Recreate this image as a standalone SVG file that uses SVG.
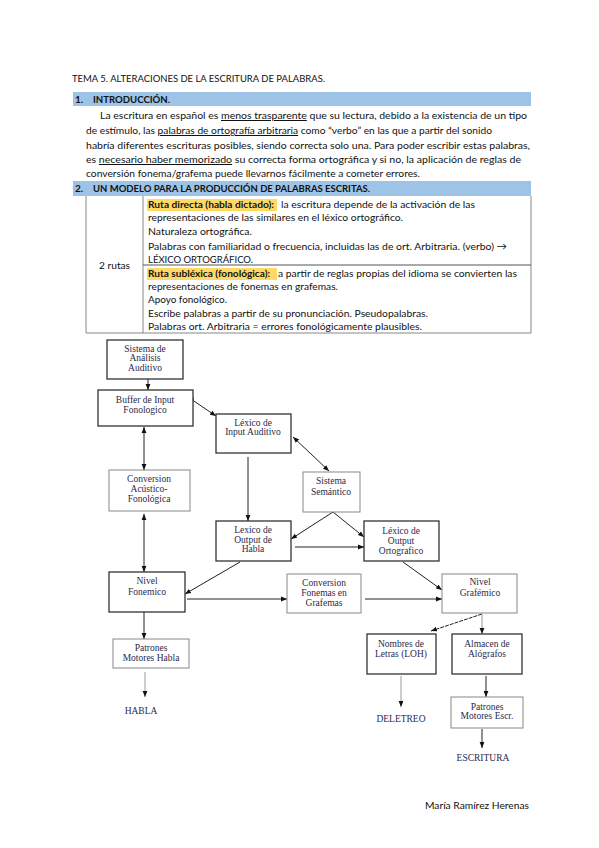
<svg xmlns="http://www.w3.org/2000/svg" width="599" height="848" viewBox="0 0 599 848">
<style>
.t{font-family:Lato,"Liberation Sans",sans-serif;font-size:10px;fill:#111}
.h{font-family:Lato,"Liberation Sans",sans-serif;font-size:10px;font-weight:bold;fill:#111}
.u{text-decoration:underline}
.n{font-family:"Liberation Serif",serif;font-size:9.5px;fill:#2a2a4a;text-anchor:middle}
.b{fill:#fff;stroke:#333;stroke-width:1.3}
.bl{fill:#fff;stroke:#888;stroke-width:1}
.c{stroke:#222;stroke-width:1;fill:none}
.cg{stroke:#999;stroke-width:1;fill:none}
</style>
<defs>
<marker id="ah" viewBox="0 0 10 10" refX="10" refY="5" markerWidth="6" markerHeight="6" markerUnits="userSpaceOnUse" orient="auto-start-reverse"><path d="M0,1 L10,5 L0,9 z" fill="#111"/></marker>
</defs>
<rect width="599" height="848" fill="#fff"/>

<g id="header">
<text class="t" x="72" y="82" textLength="253" lengthAdjust="spacingAndGlyphs">TEMA 5. ALTERACIONES DE LA ESCRITURA DE PALABRAS.</text>
<rect x="73" y="92" width="458" height="14" fill="#9dc3e6"/>
<text class="h" x="75" y="103">1.</text>
<text class="h" x="93" y="103" textLength="77" lengthAdjust="spacingAndGlyphs">INTRODUCCIÓN.</text>
<text class="t" x="100" y="119" textLength="427" lengthAdjust="spacingAndGlyphs">La escritura en español es <tspan class="u">menos trasparente</tspan> que su lectura, debido a la existencia de un tipo</text>
<text class="t" x="86" y="134" textLength="406" lengthAdjust="spacingAndGlyphs">de estímulo, las <tspan class="u">palabras de ortografía arbitraria</tspan> como “verbo” en las que a partir del sonido</text>
<text class="t" x="86" y="149" textLength="444" lengthAdjust="spacingAndGlyphs">habría diferentes escrituras posibles, siendo correcta solo una. Para poder escribir estas palabras,</text>
<text class="t" x="86" y="163" textLength="435" lengthAdjust="spacingAndGlyphs">es <tspan class="u">necesario haber memorizado</tspan> su correcta forma ortográfica y si no, la aplicación de reglas de</text>
<text class="t" x="86" y="177" textLength="334" lengthAdjust="spacingAndGlyphs">conversión fonema/grafema puede llevarnos fácilmente a cometer errores.</text>
<rect x="73" y="181" width="458" height="15" fill="#9dc3e6"/>
<text class="h" x="75" y="192">2.</text>
<text class="h" x="93" y="192" textLength="277" lengthAdjust="spacingAndGlyphs">UN MODELO PARA LA PRODUCCIÓN DE PALABRAS ESCRITAS.</text>
</g>

<g id="table">
<rect x="147" y="199" width="130" height="12" fill="#ffd966"/>
<rect x="147" y="268" width="130" height="12" fill="#ffd966"/>
<g stroke="#888" stroke-width="1">
<line x1="86" y1="196" x2="86" y2="333"/>
<line x1="531" y1="196" x2="531" y2="333"/>
<line x1="143" y1="196" x2="143" y2="333"/>
<line x1="143" y1="265" x2="531" y2="265" stroke="#555"/>
<line x1="86" y1="333" x2="531" y2="333"/>
</g>
<text class="t" x="99" y="269" textLength="31" lengthAdjust="spacingAndGlyphs">2 rutas</text>
<text class="h" x="148" y="208" textLength="126" lengthAdjust="spacingAndGlyphs">Ruta directa (habla dictado):</text>
<text class="t" x="281" y="208" textLength="194" lengthAdjust="spacingAndGlyphs">la escritura depende de la activación de las</text>
<text class="t" x="148" y="221" textLength="255" lengthAdjust="spacingAndGlyphs">representaciones de las similares en el léxico ortográfico.</text>
<text class="t" x="148" y="235" textLength="104" lengthAdjust="spacingAndGlyphs">Naturaleza ortográfica.</text>
<text class="t" x="148" y="250" textLength="359" lengthAdjust="spacingAndGlyphs">Palabras con familiaridad o frecuencia, incluidas las de ort. Arbitraria. (verbo) →</text>
<text class="t" x="148" y="263" textLength="105" lengthAdjust="spacingAndGlyphs">LÉXICO ORTOGRÁFICO.</text>
<text class="h" x="148" y="277" textLength="122" lengthAdjust="spacingAndGlyphs">Ruta subléxica (fonológica):</text>
<text class="t" x="278" y="277" textLength="239" lengthAdjust="spacingAndGlyphs">a partir de reglas propias del idioma se convierten las</text>
<text class="t" x="148" y="290" textLength="190" lengthAdjust="spacingAndGlyphs">representaciones de fonemas en grafemas.</text>
<text class="t" x="148" y="303" textLength="79" lengthAdjust="spacingAndGlyphs">Apoyo fonológico.</text>
<text class="t" x="148" y="317" textLength="280" lengthAdjust="spacingAndGlyphs">Escribe palabras a partir de su pronunciación. Pseudopalabras.</text>
<text class="t" x="148" y="330" textLength="274" lengthAdjust="spacingAndGlyphs">Palabras ort. Arbitraria = errores fonológicamente plausibles.</text>
</g>

<g id="connectors">
<line class="c" x1="148" y1="379" x2="148" y2="390" marker-end="url(#ah)"/>
<line class="c" x1="188" y1="397" x2="216" y2="416" marker-start="url(#ah)" marker-end="url(#ah)"/>
<line class="c" x1="144" y1="427" x2="144" y2="470" marker-start="url(#ah)" marker-end="url(#ah)"/>
<line class="c" x1="248" y1="457" x2="248" y2="521" marker-end="url(#ah)"/>
<line class="c" x1="293" y1="437" x2="329" y2="471" marker-start="url(#ah)" marker-end="url(#ah)"/>
<line class="c" x1="333" y1="512" x2="291" y2="539" marker-end="url(#ah)"/>
<line class="c" x1="333" y1="512" x2="364" y2="537" marker-end="url(#ah)"/>
<line class="c" x1="295" y1="547" x2="364" y2="547" marker-end="url(#ah)"/>
<line class="c" x1="240" y1="562" x2="185" y2="594" marker-end="url(#ah)"/>
<line class="c" x1="144" y1="514" x2="144" y2="572" marker-start="url(#ah)" marker-end="url(#ah)"/>
<line class="c" x1="187" y1="599" x2="287" y2="599" marker-end="url(#ah)"/>
<line class="c" x1="144" y1="612" x2="144" y2="639" marker-end="url(#ah)"/>
<line class="cg" x1="145" y1="672" x2="145" y2="697" marker-end="url(#ah)"/>
<line class="c" x1="403" y1="562" x2="442" y2="590" marker-end="url(#ah)"/>
<line class="c" x1="365" y1="599" x2="442" y2="599" marker-end="url(#ah)"/>
<line class="c" x1="482" y1="614" x2="431" y2="631" marker-end="url(#ah)" stroke-dasharray="4 1"/>
<line class="cg" x1="482" y1="614" x2="482" y2="634" marker-end="url(#ah)"/>
<line class="cg" x1="401" y1="676" x2="401" y2="707" marker-end="url(#ah)"/>
<line class="c" x1="486" y1="676" x2="486" y2="697" marker-end="url(#ah)" stroke-width="1.3"/>
<line class="c" x1="482" y1="729" x2="482" y2="748" marker-end="url(#ah)" stroke-width="1.3"/>
</g>

<g id="n-analisis"><rect class="b" x="107" y="340" width="76" height="39"/>
<text class="n" x="145" y="352">Sistema de</text><text class="n" x="145" y="361">Análisis</text><text class="n" x="145" y="371">Auditivo</text></g>
<g id="n-buffer"><rect class="b" x="98" y="390" width="95" height="36"/>
<text class="n" x="145" y="403">Buffer de Input</text><text class="n" x="145" y="413">Fonologico</text></g>
<g id="n-lexinput"><rect class="b" x="216" y="414" width="75" height="39"/>
<text class="n" x="253" y="426">Léxico de</text><text class="n" x="253" y="435">Input Auditivo</text></g>
<g id="n-convacust"><rect class="bl" x="109" y="470" width="81" height="41"/>
<text class="n" x="149" y="482">Conversion</text><text class="n" x="149" y="492">Acústico-</text><text class="n" x="149" y="502">Fonológica</text></g>
<g id="n-semantico"><rect class="bl" x="303" y="472" width="57" height="40"/>
<text class="n" x="331" y="484">Sistema</text><text class="n" x="331" y="495">Semántico</text></g>
<g id="n-lexhabla"><rect class="b" x="216" y="521" width="75" height="40"/>
<text class="n" x="253" y="533">Lexico de</text><text class="n" x="253" y="543">Output de</text><text class="n" x="253" y="552">Habla</text></g>
<g id="n-lexorto"><rect class="b" x="364" y="521" width="75" height="40" stroke-width="1.6"/>
<text class="n" x="401" y="534">Léxico de</text><text class="n" x="401" y="544">Output</text><text class="n" x="401" y="554">Ortografico</text></g>
<g id="n-nivelfon"><rect class="b" x="109" y="572" width="76" height="40"/>
<text class="n" x="147" y="584">Nivel</text><text class="n" x="147" y="595">Fonemico</text></g>
<g id="n-convfon"><rect class="bl" x="287" y="574" width="74" height="39"/>
<text class="n" x="324" y="586">Conversion</text><text class="n" x="324" y="596">Fonemas en</text><text class="n" x="324" y="606">Grafemas</text></g>
<g id="n-nivelgraf"><rect class="bl" x="442" y="574" width="75" height="39"/>
<text class="n" x="480" y="585">Nivel</text><text class="n" x="480" y="596">Grafémico</text></g>
<g id="n-nombres"><rect class="b" x="367" y="634" width="69" height="40" stroke="#555"/>
<text class="n" x="401" y="647">Nombres de</text><text class="n" x="401" y="657">Letras (LOH)</text></g>
<g id="n-almacen"><rect class="b" x="452" y="634" width="70" height="40" stroke="#555"/>
<text class="n" x="487" y="647">Almacen de</text><text class="n" x="487" y="657">Alógrafos</text></g>
<g id="n-pathabla"><rect class="bl" x="113" y="639" width="76" height="29"/>
<text class="n" x="151" y="651">Patrones</text><text class="n" x="151" y="661">Motores Habla</text></g>
<g id="n-patescr"><rect class="bl" x="451" y="697" width="72" height="31"/>
<text class="n" x="487" y="710">Patrones</text><text class="n" x="487" y="719">Motores Escr.</text></g>
<g id="outputs">
<text class="n" x="141" y="714">HABLA</text>
<text class="n" x="401" y="722">DELETREO</text>
<text class="n" x="483" y="761">ESCRITURA</text>
</g>
<g id="footer">
<text class="t" x="425" y="809" textLength="104" lengthAdjust="spacingAndGlyphs">María Ramírez Herenas</text>
</g>
</svg>
